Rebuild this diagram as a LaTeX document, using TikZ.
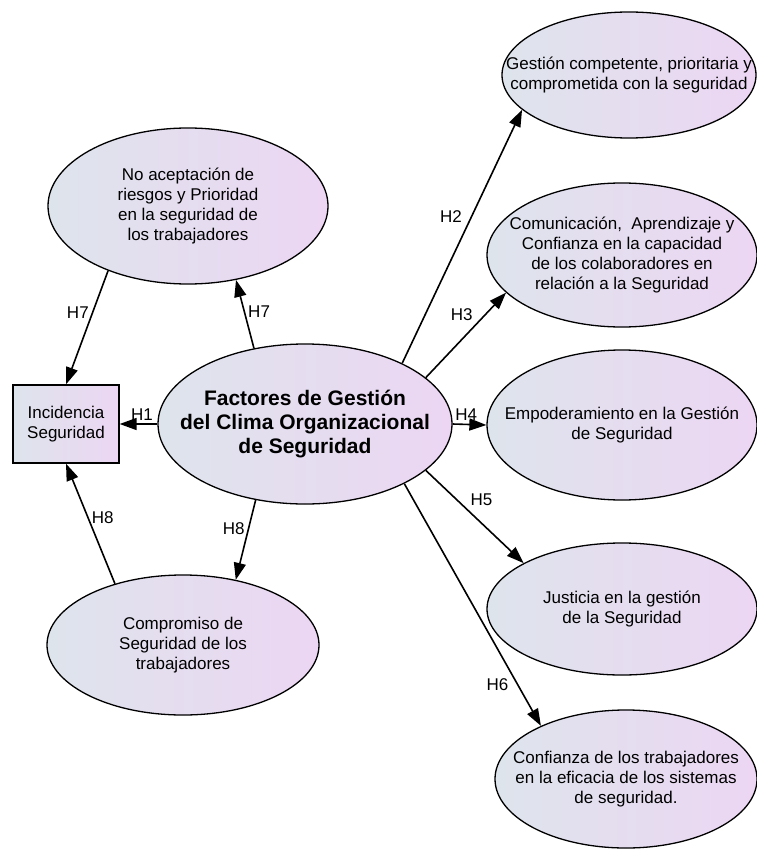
\documentclass[tikz,border=0pt]{standalone}
\usepackage{fontspec}
\setmainfont{Liberation Sans}
\usetikzlibrary{shapes.geometric, arrows.meta, positioning}
\definecolor{paleblue}{RGB}{222,228,236}
\definecolor{palelilac}{RGB}{236,214,243}

\begin{document}
\begin{tikzpicture}[x=1pt, y=-1pt,
    factor/.style={ellipse, draw=black, line width=1.3pt, left color=paleblue, right color=palelilac, inner sep=0pt},
    ftext/.style={font=\fontsize{17}{20}\selectfont, align=center},
    outcome/.style={rectangle, draw=black, line width=1.3pt, left color=paleblue, right color=palelilac,
                    minimum width=106pt, minimum height=78pt, align=center, font=\fontsize{17}{20}\selectfont},
    hyp/.style={-{Triangle[length=17pt, width=12pt]}, line width=1.6pt},
    hlabel/.style={font=\fontsize{17}{20}\selectfont, inner sep=3pt}
]
    \useasboundingbox (0,0) rectangle (756,850);

    \node[outcome] (box) at (66,424) {Incidencia\\Seguridad};

    \node[factor, minimum width=294pt, minimum height=160pt,
          label={[ftext, font=\fontsize{21}{24}\selectfont\bfseries]center:{Factores de Gestión\\del Clima Organizacional\\de Seguridad}}] (fac) at (305,424) {};

    \node[factor, minimum width=280pt, minimum height=156pt,
          label={[ftext]center:{No aceptación de\\riesgos y Prioridad\\en la seguridad de\\los trabajadores}}] (riesgos) at (188,206) {};
    \node[factor, minimum width=272pt, minimum height=140pt,
          label={[ftext]center:{Compromiso de\\Seguridad de los\\trabajadores}}] (compromiso) at (183,645) {};

    \node[factor, minimum width=254pt, minimum height=126pt,
          label={[ftext]center:{Gestión competente, prioritaria y\\comprometida con la seguridad}}] (gestion) at (629,75) {};
    \node[factor, minimum width=270pt, minimum height=144pt,
          label={[ftext]center:{Comunicación, \ Aprendizaje y\\Confianza en la capacidad\\de los colaboradores en\\relación a la Seguridad}}] (comunic) at (622,255) {};
    \node[factor, minimum width=270pt, minimum height=150pt,
          label={[ftext]center:{Empoderamiento en la Gestión\\de Seguridad}}] (empod) at (622,425) {};
    \node[factor, minimum width=270pt, minimum height=132pt,
          label={[ftext]center:{Justicia en la gestión\\de la Seguridad}}] (justicia) at (622,609) {};
    \node[factor, minimum width=262pt, minimum height=138pt,
          label={[ftext]center:{Confianza de los trabajadores\\en la eficacia de los sistemas\\de seguridad.}}] (confianza) at (626,779) {};

    \draw[hyp] (fac.32) -- (gestion.198) node[hlabel, pos=0.58, left=6pt] {H2};
    \draw[hyp] (fac.21) -- (comunic.198) node[hlabel, pos=0.63, above left] {H3};
    \draw[hyp] (fac.east) -- (empod.west) node[hlabel, pos=0.4, above] {H4};
    \draw[hyp] (fac.339) -- (justicia.155) node[hlabel, pos=0.42, above right] {H5};
    \draw[hyp] (fac.329) -- (confianza.148) node[hlabel, pos=0.79, below left] {H6};
    \draw[hyp] (fac.west) -- (box.east) node[hlabel, pos=0.41, above] {H1};
    \draw[hyp] (fac.124) -- (riesgos.303) node[hlabel, pos=0.53, right] {H7};
    \draw[hyp] (riesgos.219) -- (box.north) node[hlabel, pos=0.37, left] {H7};
    \draw[hyp] (fac.237) -- (compromiso.51) node[hlabel, pos=0.36, left] {H8};
    \draw[hyp] (compromiso.138) -- (box.south) node[hlabel, pos=0.55, right] {H8};
\end{tikzpicture}
\end{document}
